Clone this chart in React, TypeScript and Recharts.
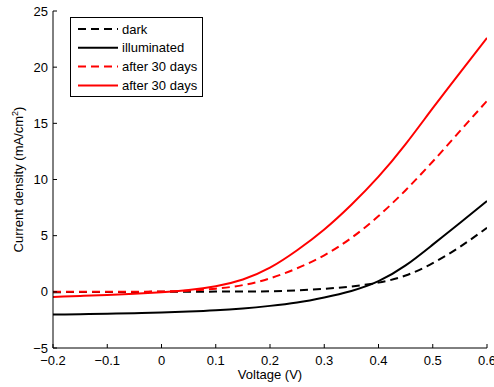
import { LineChart, Line, XAxis, YAxis, Legend } from "recharts";

const FONT = '"Liberation Sans", Arial, Helvetica, sans-serif';

// Voltage (V)
const voltage = [-0.2, -0.15, -0.1, -0.05, 0, 0.05, 0.1, 0.15, 0.2, 0.25, 0.3, 0.35, 0.4, 0.45, 0.5, 0.55, 0.6];
// current density (mA/cm^2)
const darkJ = [-0.03, -0.02, -0.02, -0.01, 0, 0.01, 0.02, 0.03, 0.05, 0.13, 0.27, 0.48, 0.82, 1.45, 2.55, 4.0, 5.7];
const illumJ = [-2.02, -1.99, -1.95, -1.9, -1.84, -1.76, -1.65, -1.48, -1.25, -0.95, -0.5, 0.08, 0.95, 2.35, 4.2, 6.12, 8.08];
const dark30J = [0, 0, 0, 0.01, 0.03, 0.1, 0.28, 0.6, 1.2, 2.1, 3.25, 4.8, 6.75, 9.05, 11.6, 14.3, 17.0];
const illum30J = [-0.45, -0.37, -0.28, -0.17, -0.03, 0.17, 0.5, 1.1, 2.15, 3.7, 5.55, 7.75, 10.25, 13.15, 16.35, 19.5, 22.6];

const xTicks = [-0.2, -0.1, 0, 0.1, 0.2, 0.3, 0.4, 0.5, 0.6];
const yTicks = [-5, 0, 5, 10, 15, 20, 25];

const series = [
  { key: "dark", name: "dark", color: "#000000", dash: "8 5" },
  { key: "illum", name: "illuminated", color: "#000000", dash: undefined },
  { key: "dark30", name: "after 30 days", color: "#ff0000", dash: "8 5" },
  { key: "illum30", name: "after 30 days", color: "#ff0000", dash: undefined },
];

const data = voltage.map((v, i) => ({
  v,
  dark: darkJ[i],
  illum: illumJ[i],
  dark30: dark30J[i],
  illum30: illum30J[i],
}));

// matlab style minus sign
const fmt = (n: number) => String(Math.round(n * 10) / 10).replace("-", "\u2212");

function YLabel(props: any) {
  const vb = props.viewBox || { x: 0, y: 11, width: 53, height: 337 };
  const x = 23;
  const y = vb.y + vb.height / 2;
  return (
    <text
      x={x}
      y={y}
      transform={`rotate(-90, ${x}, ${y})`}
      textAnchor="middle"
      fontSize={13}
      fontFamily={FONT}
      fill="#000"
    >
      Current density (mA/cm
      <tspan dy={-5} fontSize={9}>2</tspan>
      <tspan dy={5}>)</tspan>
    </text>
  );
}

function LegendBox() {
  return (
    <div
      style={{
        width: 133,
        height: 80,
        boxSizing: "border-box",
        border: "1px solid #000",
        background: "#fff",
      }}
    >
      <svg width={131} height={78} style={{ display: "block" }}>
        {series.map((s, i) => {
          const cy = 11 + i * 18.8;
          return (
            <g key={s.key}>
              <line x1={7} x2={47} y1={cy} y2={cy} stroke={s.color} strokeWidth={2} strokeDasharray={s.dash} />
              <text x={51} y={cy + 4.5} fontSize={13} fontFamily={FONT} fill="#000">
                {s.name}
              </text>
            </g>
          );
        })}
      </svg>
    </div>
  );
}

export default function App() {
  return (
    <div style={{ position: "absolute", left: 0, top: 0, background: "#fff" }}>
      <LineChart
        width={494}
        height={387}
        data={data}
        margin={{ top: 11, right: 7, left: 0, bottom: 0 }}
        style={{ fontFamily: FONT }}
      >
        <XAxis
          dataKey="v"
          type="number"
          domain={[-0.2, 0.6]}
          ticks={xTicks}
          interval={0}
          allowDataOverflow
          height={39}
          tickFormatter={fmt}
          tickSize={-4}
          tickMargin={12}
          axisLine={{ stroke: "#000" }}
          tickLine={{ stroke: "#000" }}
          tick={{ fill: "#000", fontSize: 13, fontFamily: FONT }}
          label={{ value: "Voltage (V)", position: "insideBottom", offset: 8, fill: "#000", fontSize: 13, fontFamily: FONT }}
        />
        <YAxis
          type="number"
          domain={[-5, 25]}
          ticks={yTicks}
          interval={0}
          allowDataOverflow
          width={53}
          tickFormatter={fmt}
          tickSize={-4}
          tickMargin={9}
          axisLine={{ stroke: "#000" }}
          tickLine={{ stroke: "#000" }}
          tick={{ fill: "#000", fontSize: 13, fontFamily: FONT }}
          label={<YLabel />}
        />
        <Legend
          layout="vertical"
          align="center"
          verticalAlign="middle"
          wrapperStyle={{ left: 70, top: 17, width: "auto", height: "auto" }}
          content={() => <LegendBox />}
        />
        {series.map((s) => (
          <Line
            key={s.key}
            dataKey={s.key}
            name={s.name}
            type="natural"
            stroke={s.color}
            strokeWidth={2}
            strokeDasharray={s.dash}
            dot={false}
            activeDot={false}
            isAnimationActive={false}
          />
        ))}
      </LineChart>
    </div>
  );
}
